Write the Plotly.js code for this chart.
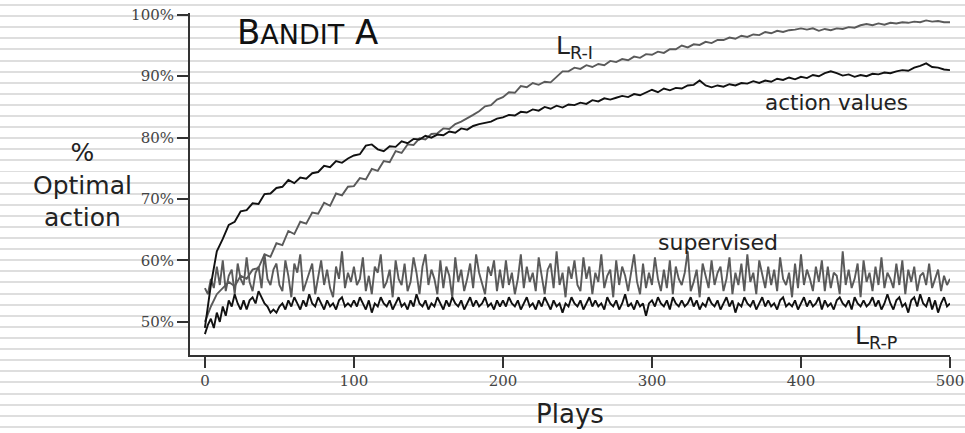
<!DOCTYPE html>
<html>
<head>
<meta charset="utf-8">
<script src="https://cdn.plot.ly/plotly-3.0.1.min.js"></script>
<style>
  html, body { margin: 0; padding: 0; }
  body {
    width: 965px; height: 433px; overflow: hidden;
    background: repeating-linear-gradient(180deg, #ffffff 0px, #ffffff 4px, #dedede 4px, #dedede 6px, #ffffff 6px, #ffffff 11.1px);
  }
  #chart { width: 965px; height: 433px; }
</style>
</head>
<body>
<div id="chart"></div>
<script>
// ---- Data ----
const xTickVals = [0, 100, 200, 300, 400, 500];
const yTickVals = [50, 60, 70, 80, 90, 100];

// action values (black), every 4 plays
const actionValues = [
  49, 56, 61.5, 63.5, 65.8, 66.3, 68, 68.2, 69.3, 69.2, 70.8, 70.9, 71.8, 72, 73.1, 72.6, 73.5, 73.3, 74.2, 74.4, 75.4, 75.2, 76.2, 75.9, 76.6,
  77.1, 77.3, 78.7, 78.9, 78.1, 77.8, 78.6, 78.5, 79.4, 79.1, 79.8, 79.7, 80.3, 80, 80.5, 80.4, 81, 80.8, 81.5, 81.3, 81.9, 82.2, 82.4, 82.6, 83.1,
  83.3, 83.7, 83.6, 84.2, 84.1, 84.6, 84.4, 85, 84.7, 85.2, 84.9, 85.4, 85.3, 85.7, 85.5, 86.1, 85.9, 86.4, 86.2, 86.5, 86.8, 86.6, 87.1, 86.9, 87.4,
  87.8, 87.4, 88, 87.7, 88.1, 88, 88.5, 88.6, 89.3, 88.5, 88.2, 88.5, 88.3, 88.7, 88.5, 88.9, 88.8, 89.2, 88.9, 89.3, 89.1, 89.6, 89.4, 89.8, 89.5,
  89.9, 89.7, 90.2, 90, 90.5, 90.8, 90.5, 90.1, 90.3, 89.9, 90.2, 90, 90.4, 90.3, 90.6, 90.5, 90.8, 91, 90.9, 91.4, 91.7, 92.1, 91.5, 91.4, 91.1,
  91
];

// L_R-I (grey), every 4 plays
const lri = [
  50, 52.5, 54.5, 55.5, 56.5, 55.8, 57.5, 57, 58.5, 58.8, 61, 60.6, 62.8, 62.5, 64.8, 64.3, 66.3, 66, 67.8, 67.6, 69.4, 68.9, 70.9, 70.6, 72,
  72.1, 73.4, 73.2, 74.9, 74.6, 76.2, 76, 77.8, 77.5, 78.9, 78.8, 79.9, 79.7, 80.6, 80.7, 81.5, 81.4, 82.2, 82.6, 83.1, 83.7, 84.3, 85.1, 85.3, 86.2,
  86.6, 87.4, 87.3, 88.4, 88.2, 88.9, 88.6, 89.1, 89, 89.9, 90.8, 90.8, 91.4, 91.2, 91.8, 91.5, 92, 91.8, 92.5, 92.3, 92.8, 92.6, 93.2, 93, 93.6,
  93.5, 94, 93.8, 94.4, 94.4, 95, 94.7, 95.2, 95.1, 95.6, 95.4, 95.9, 95.9, 96.3, 96.1, 96.6, 96.4, 96.8, 96.7, 97.2, 97, 97.4, 97.2, 97.5, 97.6,
  97.8, 97.6, 97.8, 97.4, 97.7, 97.5, 97.8, 97.7, 98, 97.9, 98.3, 98.5, 98.3, 98.6, 98.4, 98.7, 98.6, 98.8, 98.7, 98.9, 98.8, 99.1, 98.9, 99, 98.8,
  98.8
];

// supervised (grey), every 2 plays
const supervised = [
  55.5, 54.5, 57, 55.5, 59, 56, 60, 55, 57.5, 58.5, 54.5, 59.5, 57, 56, 60.5, 56.5, 55, 58, 59, 55.5, 61, 57, 56, 58.5, 59.5,
  56, 55, 60, 57.5, 54, 59.5, 58, 61, 55, 56.5, 58, 59.5, 54.5, 57.5, 60, 56, 58.5, 55.5, 54, 59, 57, 61.5, 55.5, 58, 56.5,
  59, 56, 57, 60.5, 55, 57.5, 54.5, 59, 58, 61, 55.5, 56.5, 58.5, 54, 60, 57, 56, 59.5, 55, 56.5, 60.5, 58, 54.5, 59, 61,
  56, 58.5, 57, 54.5, 60, 55.5, 59, 57.5, 54, 60.5, 56.5, 58.5, 55, 57, 59.5, 55.5, 61, 58, 56, 54.5, 59, 57.5, 60, 55, 58.5,
  55.5, 60, 56, 58, 54.5, 57, 61, 55.5, 59, 56.5, 58, 55, 60.5, 57.5, 54.5, 58.5, 59.5, 55.5, 61.5, 56, 58, 54, 59, 57, 60,
  56, 55, 60.5, 57, 59, 54.5, 58, 56.5, 61, 55.5, 57.5, 58.5, 54, 60, 56, 59, 57.5, 55, 58, 61, 56.5, 54.5, 59.5, 55.5, 58,
  56, 60.5, 57, 55, 58.5, 55.5, 60, 54.5, 59, 57, 56, 58, 61.5, 55, 56.5, 58.5, 54, 59.5, 57.5, 55.5, 60, 56, 58, 59, 55,
  57, 60.5, 54.5, 58, 56, 59.5, 55, 61, 56.5, 58, 54.5, 60, 57.5, 55.5, 59, 56, 58.5, 55, 60.5, 57, 56, 58, 54, 59.5, 55.5,
  61, 56, 58.5, 57, 55, 59, 56.5, 60, 55, 59, 55.5, 58, 57.5, 54.5, 61.5, 56, 58.5, 55.5, 57, 59.5, 54, 60, 56.5, 58, 55,
  59, 56, 60.5, 55.5, 58, 57, 55.5, 59.5, 56, 60, 54.5, 58.5, 56.5, 59, 55, 57.5, 58, 56, 59.5, 55.5, 57, 58.5, 55, 57.5, 56,
  57
];

// L_R-P (black), every 2 plays
const lrp = [
  48, 49.5, 50.5, 49, 51.5, 50, 52.5, 51, 53.5, 52.5, 54.5, 53, 52, 53.5, 52, 53.5, 54, 53, 55, 54, 53, 52.5, 51.5, 52, 51.5,
  52.5, 53, 52, 53.5, 52.5, 54, 53, 52, 53.5, 52.5, 54.5, 53, 52.5, 54, 53, 52, 53.5, 52.5, 53, 52, 53.5, 54, 52.5, 53, 52.5,
  53.5, 52.5, 54, 53, 52, 53.5, 51.5, 53, 52.5, 54, 53, 52.5, 53.5, 52, 53, 54, 52.5, 53, 52, 53.5, 52.5, 54.5, 53, 52.5, 53.5,
  52, 53, 52.5, 54, 53, 52, 53.5, 52.5, 54, 53, 52.5, 53.5, 52, 53, 54, 52.5, 53.5, 52.5, 53, 54, 52.5, 53, 52, 53.5, 52.5,
  53.5, 52.5, 54, 53, 52.5, 53.5, 52, 53, 54, 52.5, 53, 52, 53.5, 52.5, 54, 53, 52, 53.5, 52.5, 53, 51.5, 53, 52.5, 54, 53,
  52.5, 53.5, 52, 53, 54, 52.5, 53.5, 52.5, 53, 52, 54, 53, 52.5, 53.5, 52, 53, 54.5, 52.5, 53, 52, 53.5, 52.5, 53, 51, 53,
  53.5, 52.5, 54, 53, 52.5, 53.5, 52, 54, 53, 52.5, 53.5, 52.5, 53, 54, 52.5, 53.5, 52, 53, 52.5, 54, 53, 52.5, 53.5, 52, 53,
  54, 52.5, 53.5, 51.5, 53, 52.5, 54, 53, 52.5, 53.5, 52, 53, 54, 52.5, 53.5, 52.5, 53, 52, 53.5, 54, 52.5, 53, 52.5, 53.5, 52,
  53, 54, 52.5, 53.5, 52.5, 53, 54, 52, 53.5, 52.5, 53, 52, 53.5, 54, 53, 52.5, 53.5, 52, 54, 53, 52.5, 53.5, 52.5, 53, 54,
  52.5, 53.5, 52, 53, 54.5, 53, 52, 53.5, 54, 52.5, 53, 51.5, 53.5, 54, 52.5, 54.5, 53, 52.5, 54, 52, 53.5, 51.5, 53, 54, 52.5,
  53
];

// play numbers for each sampling step
function plays(step, n) { const a = []; for (let i = 0; i < n; i++) a.push(i * step); return a; }

const BLACK = '#111111';
const GREY = '#5a5a5a';
const SANS = 'DejaVu Sans, sans-serif';
const SERIF = 'DejaVu Serif, serif';

const traces = [
  { x: plays(2, supervised.length), y: supervised, name: 'supervised', mode: 'lines', line: { color: GREY, width: 1.9 } },
  { x: plays(2, lrp.length), y: lrp, name: 'L R-P', mode: 'lines', line: { color: BLACK, width: 1.9 } },
  { x: plays(4, lri.length), y: lri, name: 'L R-I', mode: 'lines', line: { color: GREY, width: 1.9 } },
  { x: plays(4, actionValues.length), y: actionValues, name: 'action values', mode: 'lines', line: { color: BLACK, width: 1.9 } }
];

const axisCommon = {
  showline: true, linecolor: '#333', linewidth: 2,
  ticks: 'outside', ticklen: 11, tickwidth: 2, tickcolor: '#333',
  showgrid: false, zeroline: false,
  tickfont: { family: SERIF, size: 15, color: '#444' }
};

const layout = {
  width: 965, height: 433,
  margin: { l: 190, r: 15, t: 13, b: 78 },
  paper_bgcolor: 'rgba(0,0,0,0)',
  plot_bgcolor: 'rgba(0,0,0,0)',
  showlegend: false,
  xaxis: Object.assign({}, axisCommon, {
    range: [-10, 500], tickvals: xTickVals, ticktext: xTickVals.map(String),
    title: { text: 'Plays', font: { family: SANS, size: 26, color: '#222' }, standoff: 16 }
  }),
  yaxis: Object.assign({}, axisCommon, {
    range: [44.6, 100.3], tickvals: yTickVals, ticktext: yTickVals.map(v => v + '%')
  }),
  annotations: [
    { xref: 'x', yref: 'y', x: 20, y: 97.2, xanchor: 'left', yanchor: 'middle', showarrow: false,
      text: 'B<span style="font-size:27px">ANDIT</span> A', font: { family: SANS, size: 34, color: '#111' } },
    { xref: 'paper', yref: 'paper', x: -0.142, y: 0.497, xanchor: 'center', yanchor: 'middle', showarrow: false,
      text: '%<br>Optimal<br>action', font: { family: SANS, size: 25, color: '#222' } },
    { xref: 'x', yref: 'y', x: 234, y: 94.8, xanchor: 'left', yanchor: 'middle', showarrow: false,
      text: 'L<sub>R-I</sub>', font: { family: SANS, size: 25, color: '#222' } },
    { xref: 'x', yref: 'y', x: 423.8, y: 85.7, xanchor: 'center', yanchor: 'middle', showarrow: false,
      text: 'action values', font: { family: SANS, size: 21.5, color: '#222' } },
    { xref: 'x', yref: 'y', x: 344.4, y: 63.0, xanchor: 'center', yanchor: 'middle', showarrow: false,
      text: 'supervised', font: { family: SANS, size: 22, color: '#222' } },
    { xref: 'x', yref: 'y', x: 434.8, y: 47.6, xanchor: 'left', yanchor: 'middle', showarrow: false,
      text: 'L<sub>R-P</sub>', font: { family: SANS, size: 25, color: '#222' } }
  ]
};

Plotly.newPlot('chart', traces, layout, { staticPlot: true, displayModeBar: false });
</script>
</body>
</html>
